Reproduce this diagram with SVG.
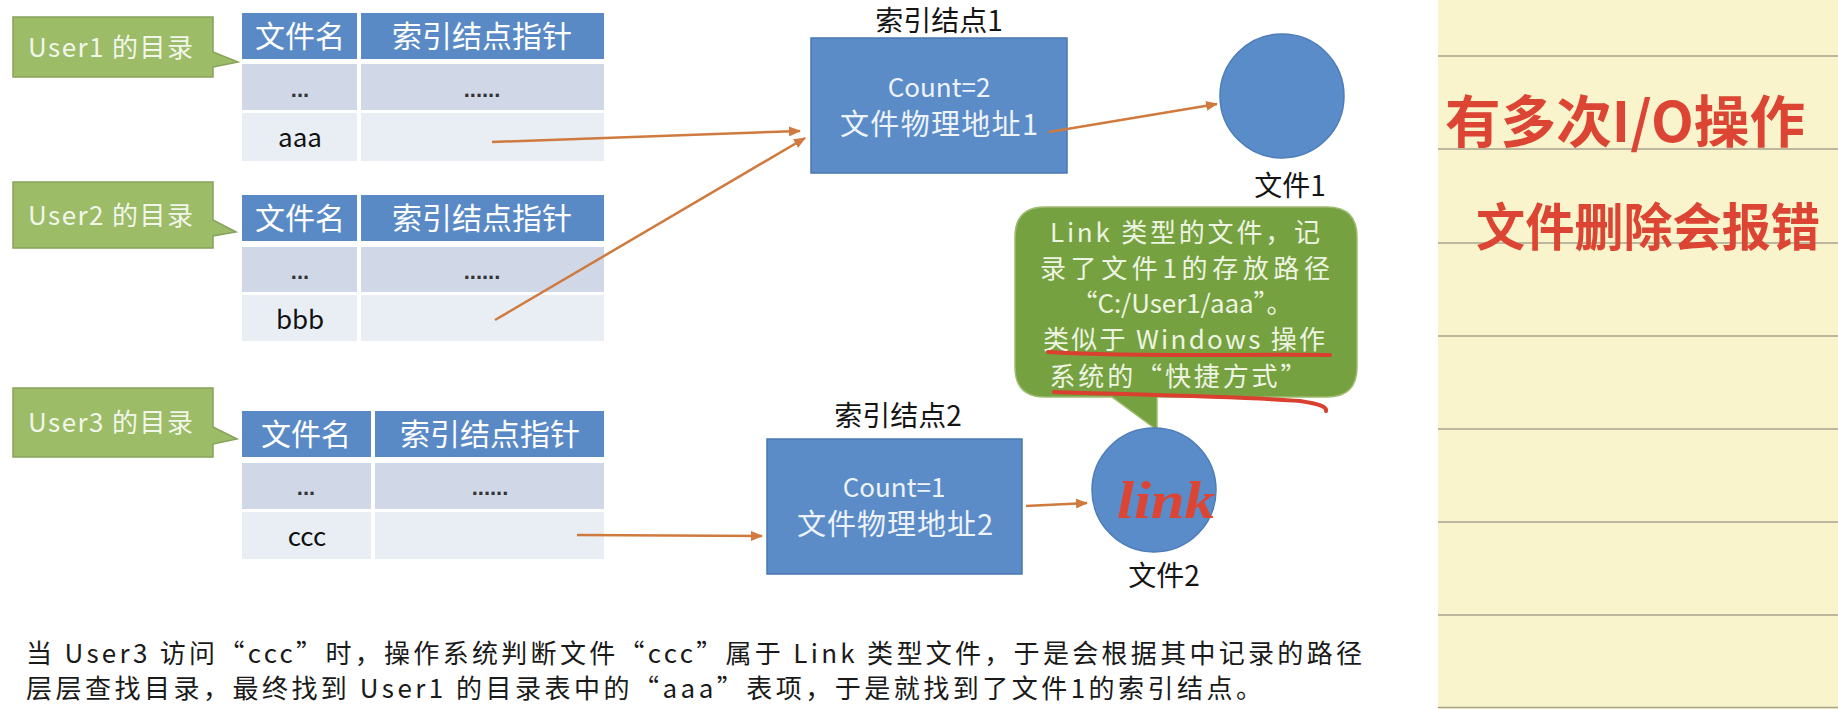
<svg xmlns="http://www.w3.org/2000/svg" width="1838" height="709" viewBox="0 0 1838 709">
<style>
.cjk{font-family:"Noto Sans CJK SC","Noto Sans",sans-serif}
.lbl{fill:#9cbc68;stroke:#86a35a;stroke-width:1.5}
.lbt{fill:#f2f6ea;font-size:26px}
.hd{fill:#5a8ac6}
.r1{fill:#d0d8e8}
.r2{fill:#e9edf4}
.ht{fill:#ffffff;font-size:30px;text-anchor:middle}
.dot{fill:#333;font-family:"Liberation Sans",sans-serif;font-size:22px;font-weight:bold;text-anchor:middle}
.cell{fill:#111;font-size:26px;text-anchor:middle}
.box{fill:#5b8cc8;stroke:#4a78b0;stroke-width:1.5}
.bt{fill:#eef3fa;text-anchor:middle}
.ttl{fill:#151515;font-size:28px;text-anchor:middle}
.circ{fill:#5a8cc9;stroke:#4c7db8;stroke-width:1.5}
.con{stroke:#cf7a3f;stroke-width:2.5;fill:none;marker-end:url(#ah)}
.red{fill:#dc4533}
.redl{stroke:#d9402f;stroke-width:4;fill:none;stroke-linecap:round}
.ct{fill:#eef4e2;font-size:26px;text-anchor:middle}
.bot{fill:#1a1a1a;font-size:26px}
</style>
<defs>
<marker id="ah" markerWidth="12" markerHeight="10" refX="11" refY="5" orient="auto" markerUnits="userSpaceOnUse"><path d="M0,0 L12,5 L0,10 z" fill="#cf7a3f"/></marker>
</defs>
<rect x="0" y="0" width="1838" height="709" fill="#ffffff"/>

<g id="notebook">
<rect x="1438" y="0" width="400" height="709" fill="#faf4cd"/>
<g stroke="#a9a58c" stroke-width="1.5">
<line x1="1438" y1="56" x2="1838" y2="56"/>
<line x1="1438" y1="149" x2="1838" y2="149"/>
<line x1="1438" y1="243" x2="1838" y2="243"/>
<line x1="1438" y1="336" x2="1838" y2="336"/>
<line x1="1438" y1="429" x2="1838" y2="429"/>
<line x1="1438" y1="522" x2="1838" y2="522"/>
<line x1="1438" y1="615" x2="1838" y2="615"/>
<line x1="1438" y1="707.5" x2="1838" y2="707.5"/>
</g>
<text class="cjk red" x="1445" y="142" font-size="56" font-weight="bold" textLength="360" lengthAdjust="spacingAndGlyphs">有多次I/O操作</text>
<text class="cjk red" x="1476" y="246" font-size="51" font-weight="bold" textLength="344" lengthAdjust="spacingAndGlyphs">文件删除会报错</text>
</g>

<g id="user1-label">
<path class="lbl" d="M13,17 H213 V52 L238,62 L213,67 V77 H13 Z"/>
<text class="cjk lbt" x="28" y="57" textLength="165">User1 的目录</text>
</g>
<g id="user2-label">
<path class="lbl" d="M13,182 H213 V220 L236,232 L213,236 V248 H13 Z"/>
<text class="cjk lbt" x="28" y="225" textLength="165">User2 的目录</text>
</g>
<g id="user3-label">
<path class="lbl" d="M13,388 H213 V427 L237,439 L213,444 V457 H13 Z"/>
<text class="cjk lbt" x="28" y="432" textLength="165">User3 的目录</text>
</g>

<g id="table1">
<rect class="hd" x="242" y="13" width="115" height="46"/>
<rect class="hd" x="361" y="13" width="243" height="46"/>
<rect class="r1" x="242" y="64" width="115" height="46"/>
<rect class="r1" x="361" y="64" width="243" height="46"/>
<rect class="r2" x="242" y="113" width="115" height="48"/>
<rect class="r2" x="361" y="113" width="243" height="48"/>
<text class="cjk ht" x="300" y="47">文件名</text>
<text class="cjk ht" x="482" y="47">索引结点指针</text>
<text class="dot" x="300" y="97">...</text>
<text class="dot" x="482" y="97">......</text>
<text class="cjk cell" x="300" y="147">aaa</text>
</g>

<g id="table2">
<rect class="hd" x="242" y="195" width="115" height="46"/>
<rect class="hd" x="361" y="195" width="243" height="46"/>
<rect class="r1" x="242" y="247" width="115" height="45"/>
<rect class="r1" x="361" y="247" width="243" height="45"/>
<rect class="r2" x="242" y="295" width="115" height="46"/>
<rect class="r2" x="361" y="295" width="243" height="46"/>
<text class="cjk ht" x="300" y="229">文件名</text>
<text class="cjk ht" x="482" y="229">索引结点指针</text>
<text class="dot" x="300" y="279">...</text>
<text class="dot" x="482" y="279">......</text>
<text class="cjk cell" x="300" y="329">bbb</text>
</g>

<g id="table3">
<rect class="hd" x="242" y="411" width="129" height="46"/>
<rect class="hd" x="375" y="411" width="229" height="46"/>
<rect class="r1" x="242" y="463" width="129" height="46"/>
<rect class="r1" x="375" y="463" width="229" height="46"/>
<rect class="r2" x="242" y="512" width="129" height="47"/>
<rect class="r2" x="375" y="512" width="229" height="47"/>
<text class="cjk ht" x="306" y="445">文件名</text>
<text class="cjk ht" x="490" y="445">索引结点指针</text>
<text class="dot" x="306" y="495">...</text>
<text class="dot" x="490" y="495">......</text>
<text class="cjk cell" x="307" y="546">ccc</text>
</g>

<g id="inode1">
<text class="cjk ttl" x="939" y="31">索引结点1</text>
<rect class="box" x="811" y="38" width="256" height="135"/>
<text class="cjk bt" x="939" y="97" font-size="26">Count=2</text>
<text class="cjk bt" x="939" y="135" font-size="29" textLength="198">文件物理地址1</text>
</g>

<g id="inode2">
<text class="cjk ttl" x="898" y="426">索引结点2</text>
<rect class="box" x="767" y="439" width="255" height="135"/>
<text class="cjk bt" x="894" y="497" font-size="26">Count=1</text>
<text class="cjk bt" x="895" y="535" font-size="29" textLength="196">文件物理地址2</text>
</g>

<g id="file1">
<circle class="circ" cx="1282" cy="96" r="62"/>
<text class="cjk ttl" x="1290" y="196">文件1</text>
</g>

<g id="callout">
<path d="M1045,207 H1327 Q1357,207 1357,237 V367 Q1357,397 1327,397 H1157 V430 L1112,397 H1045 Q1015,397 1015,367 V237 Q1015,207 1045,207 Z" fill="#76a140" stroke="#9dbb70" stroke-width="1.5"/>
<text class="cjk ct" x="1185" y="242" textLength="270">Link 类型的文件，记</text>
<text class="cjk ct" x="1185" y="278" textLength="290">录了文件1的存放路径</text>
<text class="cjk ct" x="1182" y="313" textLength="221">“C:/User1/aaa”。</text>
<text class="cjk ct" x="1184" y="349" textLength="282">类似于 Windows 操作</text>
<text class="cjk ct" x="1178" y="386" textLength="257">系统的“快捷方式”</text>
<path class="redl" d="M1048,352 C1120,357 1250,354 1330,355"/>
<path class="redl" d="M1054,392 C1150,395 1250,397 1300,401 C1320,404 1327,407 1326,411"/>
</g>

<g id="file2">
<circle class="circ" cx="1154" cy="490" r="62"/>
<text class="red" x="1117" y="518" font-family="Liberation Serif, serif" font-style="italic" font-weight="bold" font-size="52" textLength="98" lengthAdjust="spacingAndGlyphs">link</text>
<text class="cjk ttl" x="1164" y="586">文件2</text>
</g>

<g id="connectors">
<line class="con" x1="492" y1="142" x2="800" y2="131"/>
<line class="con" x1="495" y1="320" x2="805" y2="138"/>
<line class="con" x1="577" y1="535" x2="762" y2="536"/>
<line class="con" x1="1049" y1="132" x2="1217" y2="104"/>
<line class="con" x1="1026" y1="506" x2="1087" y2="503"/>
</g>

<g id="caption">
<text class="cjk bot" x="26" y="663" textLength="1336">当 User3 访问“ccc”时，操作系统判断文件“ccc”属于 Link 类型文件，于是会根据其中记录的路径</text>
<text class="cjk bot" x="26" y="698" textLength="1236">层层查找目录，最终找到 User1 的目录表中的“aaa”表项，于是就找到了文件1的索引结点。</text>
</g>
</svg>
